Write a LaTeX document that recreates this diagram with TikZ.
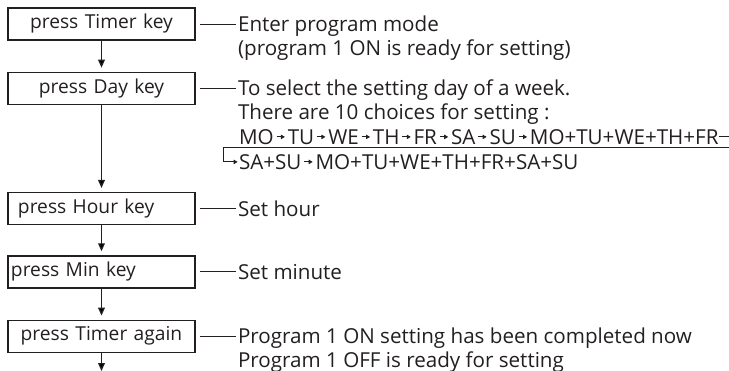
\documentclass[tikz,border=0pt]{standalone}
\usepackage{fontspec}
\setmainfont{Open Sans}
\usepackage{tikz}
\usetikzlibrary{arrows.meta,positioning}
\definecolor{ink}{RGB}{35,31,32}
\newcommand{\nxt}{\hspace{1.2pt}\tikz[baseline={(0,-3.7pt)}]\draw[draw=ink,line width=.45pt,-{Triangle[length=2pt,width=2.2pt]}] (0,0) -- (4.2pt,0);\hspace{1.2pt}}
\tikzset{
  keybox/.style={draw=ink, line width=.65pt, minimum width=93.5pt, minimum height=16pt,
    text width=93.5pt, inner xsep=0pt, inner ysep=0pt, align=center, font=\fontsize{9.6}{12}\selectfont},
  note/.style={anchor=base west, align=left, inner sep=0pt},
  flow/.style={draw=ink, line width=.6pt, -{Triangle[length=4pt,width=3.4pt]}, shorten >=2pt},
  tie/.style={draw=ink, line width=.5pt}
}

\begin{document}
\begin{tikzpicture}[x=0.5pt, y=-0.5pt, font=\fontsize{10.3}{12}\selectfont, text=ink]
\useasboundingbox (0,0) rectangle (729,370);
% keys
\node[keybox] (timer) at (101.5,24) {press Timer key};
\node[keybox, below=15.5pt of timer] (day) {press Day key};
\node[keybox, below=43.5pt of day, align=left] (hour) {\hspace*{5pt}press Hour key};
\node[keybox, below=15pt of hour, align=left] (min) {\hspace*{1.5pt}press Min key};
\node[keybox, below=15.5pt of min] (again) {press Timer again};
\coordinate (bottom) at (0,371);

% what each key does (base = last line)
\node[note] (enter) at ([xshift=21pt,yshift=-15.75pt]timer.east)
  {Enter program mode\\(program 1 ON is ready for setting)};
\node[note] (select) at ([xshift=21pt,yshift=-15.75pt]day.east)
  {To select the setting day of a week.\\There are 10 choices for setting :};
\node[note] (days1) at ([xshift=21.5pt,yshift=-28pt]day.east)
  {MO\nxt TU\nxt WE\nxt TH\nxt FR\nxt SA\nxt SU\nxt MO+TU+WE+TH+FR};
\node[note] (days2) at ([xshift=21.5pt,yshift=-40.5pt]day.east)
  {SA+SU\nxt MO+TU+WE+TH+FR+SA+SU};
\node[note] (sethour) at ([xshift=21pt,yshift=-3.75pt]hour.east) {Set hour};
\node[note] (setmin) at ([xshift=21pt,yshift=-3.75pt]min.east) {Set minute};
\node[note] (done) at ([xshift=21pt,yshift=-15.75pt]again.east)
  {Program 1 ON setting has been completed now\\Program 1 OFF is ready for setting};

% flow
\draw[flow] (timer) -- (day);
\draw[flow] (day) -- (hour);
\draw[flow] (hour) -- (min);
\draw[flow] (min) -- (again);
\draw[flow, shorten >=0pt] (again.south) -- (again.south |- bottom);

% ties
\draw[tie] ([xshift=2pt]timer.east) -- ([xshift=-1pt]timer.east -| enter.west);
\draw[tie] ([xshift=2pt]day.east) -- ([xshift=-1pt]day.east -| select.west);
\draw[tie] ([xshift=2pt]hour.east) -- ([xshift=-1pt]hour.east -| sethour.west);
\draw[tie] ([xshift=2pt]min.east) -- ([xshift=-1pt]min.east -| setmin.west);
\draw[tie] ([xshift=2pt]again.east) -- ([xshift=-1pt]again.east -| done.west);

% wrap of the day list
\coordinate (wrap) at (735,147);
\coordinate (turn) at (223,147);
\draw[tie, -{Triangle[length=2pt,width=2.2pt]}, shorten >=.5pt]
  (days1.east) -| (wrap) -- (turn) |- (days2.west);
\end{tikzpicture}
\end{document}
